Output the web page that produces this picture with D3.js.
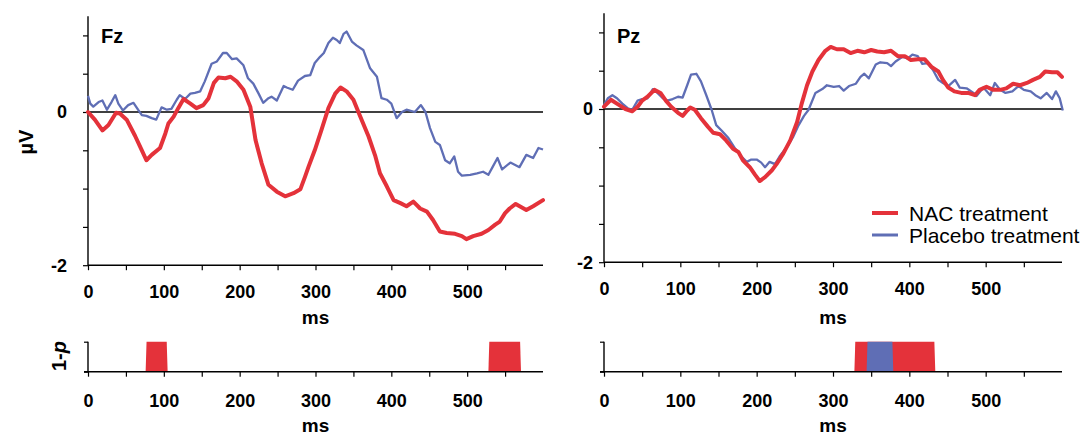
<!DOCTYPE html>
<html>
<head>
<meta charset="utf-8">
<script src="https://cdn.jsdelivr.net/npm/d3@7"></script>
<style>
  body { margin: 0; background: #fff; }
  svg { display: block; font-family: "Liberation Sans", Arial, sans-serif; }
</style>
</head>
<body>
<svg width="1087" height="435"></svg>
<script>
;(function (d3) {
  var svg = d3.select('svg')

  var red = '#e4323a'
  var blue = '#5f6eb5'

  // ms, µV
  var fzNac = [[0, 0], [9, -0.1], [19, -0.24], [27, -0.17], [37, -0.01], [42, -0.02], [51, -0.1],
    [62, -0.31], [71, -0.5], [77, -0.63], [84, -0.56], [95, -0.47], [102, -0.28], [106, -0.15],
    [113, -0.06], [119, 0.05], [126, 0.17], [135, 0.11], [143, 0.05], [152, 0.09], [159, 0.18],
    [166, 0.38], [172, 0.45], [181, 0.44], [188, 0.46], [196, 0.4], [205, 0.29], [214, 0.07],
    [221, -0.37], [229, -0.67], [238, -0.95], [249, -1.04], [260, -1.1], [271, -1.06], [280, -1.01],
    [286, -0.85], [291, -0.71], [299, -0.5], [308, -0.23], [317, 0.05], [326, 0.24], [333, 0.32],
    [341, 0.27], [350, 0.16], [359, -0.06], [370, -0.32], [379, -0.58], [385, -0.8], [394, -0.97],
    [403, -1.15], [412, -1.19], [420, -1.23], [429, -1.17], [438, -1.26], [447, -1.3], [455, -1.41],
    [464, -1.56], [473, -1.58], [484, -1.59], [493, -1.62], [499, -1.66], [508, -1.62], [519, -1.59],
    [528, -1.54], [537, -1.47], [543, -1.43], [550, -1.32], [556, -1.26], [564, -1.2], [578, -1.28],
    [587, -1.23], [600, -1.15]]

  var fzPlacebo = [[0, 0.21], [3, 0.11], [7, 0.07], [14, 0.13], [19, 0.15], [25, 0.03], [31, 0.13],
    [36, 0.22], [40, 0.11], [46, 0.02], [53, 0.09], [60, 0.12], [66, 0.03], [71, -0.04], [77, -0.05],
    [84, -0.08], [90, -0.1], [97, 0.06], [104, 0.03], [110, 0.04], [117, 0.16], [121, 0.22],
    [128, 0.17], [135, 0.24], [141, 0.25], [148, 0.27], [154, 0.4], [163, 0.63], [170, 0.66],
    [178, 0.77], [183, 0.77], [190, 0.69], [196, 0.7], [205, 0.61], [211, 0.44], [218, 0.37],
    [225, 0.24], [231, 0.12], [238, 0.18], [242, 0.2], [249, 0.15], [258, 0.34], [262, 0.32],
    [270, 0.29], [277, 0.41], [286, 0.47], [293, 0.48], [299, 0.64], [306, 0.72], [311, 0.77],
    [317, 0.9], [323, 0.97], [328, 0.94], [332, 0.9], [337, 1.02], [341, 1.05], [348, 0.92],
    [354, 0.87], [363, 0.81], [372, 0.57], [381, 0.46], [387, 0.18], [394, 0.16], [400, 0.11],
    [407, -0.08], [414, 0], [420, 0.03], [431, 0], [439, 0.09], [445, 0], [451, -0.21], [458, -0.39],
    [464, -0.43], [471, -0.63], [477, -0.67], [483, -0.58], [488, -0.78], [493, -0.83], [504, -0.82],
    [513, -0.8], [521, -0.78], [528, -0.82], [534, -0.71], [540, -0.6], [546, -0.75], [557, -0.66],
    [569, -0.72], [578, -0.56], [587, -0.6], [594, -0.47], [600, -0.49]]

  var pzNac = [[0, 0.03], [9, 0.12], [20, 0.05], [28, 0], [37, -0.03], [44, 0.03], [50, 0.11],
    [57, 0.16], [66, 0.25], [74, 0.21], [81, 0.11], [88, 0.03], [97, -0.05], [103, -0.09],
    [109, -0.02], [113, 0.02], [119, -0.01], [127, -0.12], [136, -0.23], [143, -0.31], [152, -0.33],
    [160, -0.41], [169, -0.52], [176, -0.56], [182, -0.67], [191, -0.76], [198, -0.86], [204, -0.94],
    [211, -0.89], [220, -0.8], [226, -0.72], [235, -0.58], [244, -0.41], [253, -0.17], [259, 0.07],
    [266, 0.31], [273, 0.49], [281, 0.64], [290, 0.76], [297, 0.81], [305, 0.78], [314, 0.78],
    [323, 0.73], [332, 0.76], [341, 0.74], [350, 0.77], [358, 0.75], [367, 0.74], [376, 0.76],
    [385, 0.69], [394, 0.69], [402, 0.64], [411, 0.65], [420, 0.65], [429, 0.55], [438, 0.49],
    [444, 0.38], [451, 0.28], [459, 0.23], [468, 0.21], [477, 0.21], [486, 0.18], [492, 0.25],
    [501, 0.29], [510, 0.25], [519, 0.25], [527, 0.27], [536, 0.33], [545, 0.31], [554, 0.34],
    [562, 0.38], [571, 0.42], [578, 0.49], [587, 0.48], [594, 0.48], [600, 0.42]]

  var pzPlacebo = [[0, 0.05], [5, 0.14], [11, 0.18], [17, 0.14], [24, 0.07], [31, 0.01], [37, -0.01],
    [44, 0.11], [50, 0.13], [57, 0.14], [64, 0.26], [70, 0.21], [77, 0.14], [83, 0.11], [90, 0.13],
    [97, 0.16], [103, 0.15], [109, 0.31], [114, 0.45], [121, 0.46], [127, 0.36], [134, 0.18],
    [141, -0.01], [147, -0.21], [154, -0.28], [163, -0.38], [172, -0.52], [180, -0.62], [187, -0.69],
    [193, -0.66], [200, -0.66], [206, -0.7], [211, -0.76], [217, -0.69], [224, -0.72], [230, -0.62],
    [240, -0.49], [248, -0.36], [255, -0.21], [262, -0.09], [268, -0.01], [277, 0.21], [286, 0.26],
    [292, 0.31], [301, 0.29], [308, 0.3], [314, 0.24], [321, 0.3], [330, 0.33], [336, 0.42],
    [341, 0.46], [347, 0.4], [356, 0.58], [362, 0.61], [371, 0.6], [376, 0.56], [382, 0.62],
    [391, 0.68], [398, 0.66], [404, 0.71], [411, 0.69], [417, 0.59], [424, 0.6], [431, 0.51],
    [438, 0.38], [444, 0.34], [451, 0.3], [460, 0.38], [466, 0.28], [475, 0.27], [484, 0.21],
    [488, 0.17], [497, 0.28], [506, 0.18], [512, 0.34], [519, 0.25], [526, 0.21], [535, 0.23],
    [543, 0.3], [550, 0.25], [559, 0.23], [565, 0.18], [572, 0.14], [580, 0.21], [587, 0.13],
    [592, 0.23], [597, 0.14], [601, -0.02]]

  // significant windows (1-p), ms
  var fzNacSig = [[76, 105], [528, 571]]
  var fzPlaceboSig = []
  var pzNacSig = [[328, 434]]
  var pzPlaceboSig = [[344, 379]]

  var xTicks = [0, 50, 100, 150, 200, 250, 300, 350, 400, 450, 500, 550]
  var xLabels = [0, 100, 200, 300, 400, 500]
  var yTicks = [1, 0.5, 0, -0.5, -1, -1.5, -2]
  var yLabels = [0, -2]

  var panels = [
    {name: 'Fz', x0: 88, x1: 543, zero: 112, nac: fzNac, pla: fzPlacebo, nacSig: fzNacSig, plaSig: fzPlaceboSig, labelGap: 21},
    {name: 'Pz', x0: 604, x1: 1062, zero: 109, nac: pzNac, pla: pzPlacebo, nacSig: pzNacSig, plaSig: pzPlaceboSig, labelGap: 11}
  ]

  panels.forEach(function (p) {
    var g = svg.append('g')
    var x = d3.scaleLinear().domain([0, 600]).range([p.x0, p.x1])
    var y = d3.scaleLinear().domain([-2, 1.25]).range([p.zero + 2 * 76.6, p.zero - 1.25 * 76.6])

    // x axis
    var xa = g.append('g')
      .attr('transform', 'translate(0,' + y(-2) + ')')
      .call(d3.axisBottom(x).tickValues(xTicks).tickSize(5)
        .tickFormat(function (d) { return xLabels.indexOf(d) >= 0 ? d : '' }))
    xa.select('.domain').attr('d', 'M' + x(0) + ',0H' + x(600))
    styleAxis(xa)
    xa.selectAll('text').attr('y', 32.5).attr('dy', null)

    g.append('text')
      .attr('x', x(300)).attr('y', 324)
      .attr('text-anchor', 'middle')
      .style('font-size', '19px').style('font-weight', 'bold')
      .text('ms')

    // y axis
    var ya = g.append('g')
      .attr('transform', 'translate(' + p.x0 + ',0)')
      .call(d3.axisLeft(y).tickValues(yTicks).tickSize(5).tickFormat(''))
    ya.select('.domain').attr('d', 'M0,' + y(1.25) + 'V' + y(-2))
    styleAxis(ya)

    g.selectAll('.ylab')
      .data(yLabels)
      .enter()
      .append('text')
      .attr('x', p.x0 - p.labelGap)
      .attr('y', function (d) { return y(d) })
      .attr('dy', '0.36em')
      .attr('text-anchor', 'end')
      .style('font-size', '18px').style('font-weight', 'bold')
      .text(function (d) { return d })

    // zero line
    g.append('line')
      .attr('x1', x(0)).attr('x2', x(600))
      .attr('y1', y(0)).attr('y2', y(0))
      .style('stroke', '#000').style('stroke-width', 1.3)

    var ln = d3.line()
      .x(function (d) { return x(d[0]) })
      .y(function (d) { return y(d[1]) })

    g.append('path')
      .attr('d', ln(p.pla))
      .style('fill', 'none').style('stroke', blue)
      .style('stroke-width', 2.3).style('stroke-linejoin', 'round')

    g.append('path')
      .attr('d', ln(p.nac))
      .style('fill', 'none').style('stroke', red)
      .style('stroke-width', 4).style('stroke-linejoin', 'round').style('stroke-linecap', 'round')

    g.append('text')
      .attr('x', p.x0 + 13).attr('y', 42.5)
      .style('font-size', '20px').style('font-weight', 'bold')
      .text(p.name)

    // 1-p panel
    var yp = d3.scaleLinear().domain([0, 1]).range([371.7, 341.7])
    var area = d3.area()
      .x(function (d) { return x(d[0]) })
      .y0(yp(0))
      .y1(function (d) { return yp(d[1]) })

    function sigShape (s) {
      return [[s[0], 0], [s[0] + 1.2, 1], [s[1] - 1.2, 1], [s[1], 0]]
    }

    g.selectAll('.nacsig')
      .data(p.nacSig)
      .enter()
      .append('path')
      .attr('d', function (s) { return area(sigShape(s)) })
      .style('fill', red)

    g.selectAll('.plasig')
      .data(p.plaSig)
      .enter()
      .append('path')
      .attr('d', function (s) { return area(sigShape(s)) })
      .style('fill', blue)

    var bx = g.append('g')
      .attr('transform', 'translate(0,' + yp(0) + ')')
      .call(d3.axisBottom(x).tickValues(xTicks).tickSize(5)
        .tickFormat(function (d) { return xLabels.indexOf(d) >= 0 ? d : '' }))
    bx.select('.domain').attr('d', 'M' + (x(0) - 4) + ',0H' + x(600))
    styleAxis(bx)
    bx.selectAll('text').attr('y', 35.5).attr('dy', null)

    var by = g.append('g')
      .attr('transform', 'translate(' + p.x0 + ',0)')
      .call(d3.axisLeft(yp).tickValues([0, 1]).tickSize(4).tickFormat(''))
    by.select('.domain').attr('d', 'M0,' + yp(1) + 'V' + yp(0))
    styleAxis(by)

    g.append('text')
      .attr('x', x(300)).attr('y', 432)
      .attr('text-anchor', 'middle')
      .style('font-size', '19px').style('font-weight', 'bold')
      .text('ms')
  })

  function styleAxis (a) {
    a.select('.domain').style('stroke', '#000').style('stroke-width', 1.4)
    a.selectAll('.tick line').style('stroke', '#000').style('stroke-width', 1.2)
    a.selectAll('text')
      .style('font-family', '"Liberation Sans", Arial, sans-serif')
      .style('font-size', '18px').style('font-weight', 'bold')
      .style('fill', '#000')
  }

  // axis titles
  svg.append('text')
    .attr('transform', 'translate(33,142) rotate(-90)')
    .attr('text-anchor', 'middle')
    .style('font-size', '20px').style('font-weight', 'bold')
    .text('µV')

  var t = svg.append('text')
    .attr('transform', 'translate(66,356) rotate(-90)')
    .attr('text-anchor', 'middle')
    .style('font-size', '20px').style('font-weight', 'bold')
  t.append('tspan').text('1-')
  t.append('tspan').style('font-style', 'italic').text('p')

  // legend
  var legend = [
    {label: 'NAC treatment', color: red, w: 4, y: 213},
    {label: 'Placebo treatment', color: blue, w: 3, y: 235}
  ]
  var lg = svg.selectAll('.lg')
    .data(legend)
    .enter()
    .append('g')
  lg.append('line')
    .attr('x1', 872).attr('x2', 898)
    .attr('y1', function (d) { return d.y }).attr('y2', function (d) { return d.y })
    .style('stroke', function (d) { return d.color })
    .style('stroke-width', function (d) { return d.w })
  lg.append('text')
    .attr('x', 909).attr('y', function (d) { return d.y + 7.5 })
    .style('font-size', '21px')
    .text(function (d) { return d.label })
})(window.d3)
</script>
</body>
</html>
